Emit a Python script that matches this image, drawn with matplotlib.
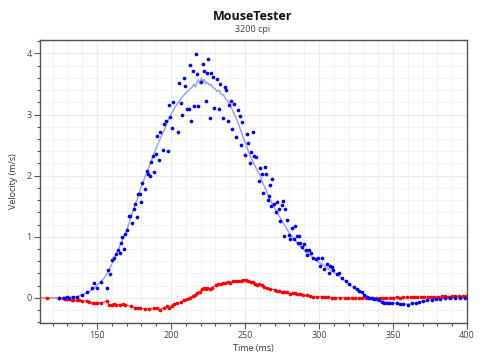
import matplotlib
matplotlib.use("Agg")
import matplotlib.pyplot as plt
from matplotlib.ticker import MultipleLocator

plt.rcParams['font.family'] = ['Open Sans', 'DejaVu Sans']

# x velocity points (time ms, m/s)
x_time = [124.5, 127.7, 129.5, 131.3, 134.0, 136.7, 139.7, 143.5, 146.8, 148.0,
          149.8, 153.0, 157.0, 157.7, 158.8, 160.2, 161.3, 163.0, 164.0, 165.7,
          166.3, 167.0, 168.0, 169.2, 170.3, 171.6, 172.6, 173.7, 174.7, 176.0,
          177.0, 178.0, 179.0, 179.7, 180.6, 182.6, 183.5, 184.6, 185.8, 186.7,
          187.6, 188.7, 189.6, 190.7, 191.6, 192.6, 194.6, 195.5, 196.6, 197.7,
          198.4, 199.5, 200.7, 201.5, 204.7, 205.6, 206.5, 207.6, 208.8, 209.7,
          211.0, 211.9, 212.8, 213.7, 214.6, 215.7, 216.7, 217.8, 218.5, 220.6,
          221.5, 222.4, 223.5, 224.4, 225.3, 226.4, 227.3, 228.4, 229.3, 231.2,
          232.3, 233.3, 235.1, 236.3, 237.2, 238.3, 239.2, 240.3, 241.2, 242.4,
          244.1, 245.3, 246.4, 247.3, 248.2, 250.3, 251.2, 252.3, 253.2, 254.3,
          255.6, 256.3, 257.3, 259.3, 260.4, 261.4, 262.3, 263.4, 264.3, 265.4,
          266.4, 267.1, 267.6, 268.4, 269.6, 270.8, 271.6, 272.8, 273.6, 274.7,
          275.7, 276.6, 277.2, 278.1, 279.7, 280.4, 281.8, 283.1, 283.5, 284.9,
          285.8, 286.7, 287.2, 288.7, 289.9, 291.2, 291.7, 293.0, 294.6, 295.7,
          297.7, 299.5, 300.4, 301.8, 303.6, 305.2, 306.5, 307.7, 308.6, 309.7,
          312.0, 313.7, 315.5, 318.4, 320.3, 323.6, 325.5, 327.2, 328.8, 330.6,
          332.2, 334.0, 335.6, 337.4, 339.0, 340.8, 342.4, 344.0, 345.7, 347.1,
          349.1, 352.5, 354.7, 357.0, 359.9, 362.6, 365.5, 367.8, 370.5, 373.2,
          376.1, 379.1, 381.8, 385.1, 388.5, 391.9, 395.3, 398.6]
x_vel = [0.0, 0.0, 0.01, 0.0, 0.01, 0.02, 0.05, 0.09, 0.17, 0.24,
         0.17, 0.26, 0.17, 0.45, 0.39, 0.62, 0.66, 0.72, 0.79, 0.73,
         0.90, 1.00, 0.80, 1.04, 1.11, 1.34, 1.34, 1.23, 1.45, 1.53,
         1.32, 1.70, 1.70, 1.57, 1.88, 1.78, 2.07, 2.02, 2.00, 2.22,
         2.32, 2.06, 2.35, 2.65, 2.25, 2.72, 2.42, 2.85, 2.89, 2.40,
         3.16, 2.96, 2.78, 3.21, 2.72, 3.52, 3.19, 3.00, 3.60, 3.47,
         3.09, 3.09, 3.81, 2.89, 3.71, 3.14, 3.99, 3.66, 3.14, 3.53,
         3.83, 3.71, 3.23, 3.68, 3.91, 2.95, 3.68, 3.62, 3.10, 3.59,
         3.09, 3.50, 2.95, 3.45, 3.41, 2.89, 3.15, 3.23, 2.76, 3.18,
         2.64, 3.07, 2.97, 2.50, 2.88, 2.34, 2.68, 2.53, 2.20, 2.38,
         2.71, 2.33, 2.30, 1.92, 2.13, 2.03, 1.71, 2.14, 2.02, 1.60,
         1.66, 1.84, 1.50, 1.94, 1.54, 1.40, 1.57, 1.46, 1.26, 1.52,
         1.59, 1.01, 1.45, 1.27, 1.03, 0.97, 1.14, 0.96, 1.17, 1.01,
         0.90, 1.01, 0.90, 0.84, 0.89, 0.79, 0.71, 0.78, 0.74, 0.65,
         0.63, 0.65, 0.52, 0.66, 0.48, 0.55, 0.41, 0.52, 0.50, 0.46,
         0.39, 0.40, 0.32, 0.27, 0.23, 0.18, 0.14, 0.11, 0.09, 0.05,
         0.02, 0.005, -0.005, -0.016, -0.02, -0.04, -0.06, -0.08, -0.09, -0.09,
         -0.08, -0.09, -0.10, -0.10, -0.11, -0.09, -0.08, -0.07, -0.05, -0.04,
         -0.03, -0.02, -0.01, -0.005, 0.0, 0.0, -0.005, -0.005]

# smoothed x velocity line
xs_time = [123, 128, 132, 136, 140, 144, 148, 152, 155, 158, 160, 163, 166, 168,
           170, 172, 175, 177, 180, 182, 185, 188, 190, 193, 195, 198, 200, 203,
           205, 208, 210, 212, 214, 215.5, 216.5, 217.5, 218.5, 219.5, 220.5,
           221.5, 222.5, 223.5, 224.5, 226, 227, 228.5, 230, 231, 232.5, 234,
           235.5, 237, 238.5, 240, 242, 244, 246, 248, 250, 252, 254, 256, 258,
           260, 262, 264, 266, 268, 270, 272, 274, 276, 278, 280, 282, 284, 286,
           288, 290, 292, 294, 296, 298, 300, 302, 304, 306, 308, 310, 312, 314,
           316, 318, 320, 322, 324, 326, 328, 330, 332, 334, 336, 338, 340, 343,
           346, 349, 352, 355, 358, 361, 364, 367, 370, 373, 376, 379, 382, 386,
           390, 395, 400]
xs_vel = [0.0, 0.005, 0.01, 0.02, 0.05, 0.09, 0.16, 0.25, 0.33, 0.45, 0.55, 0.72,
          0.88, 0.98, 1.1, 1.25, 1.47, 1.6, 1.83, 1.95, 2.13, 2.33, 2.45, 2.62,
          2.72, 2.9, 3.0, 3.13, 3.2, 3.3, 3.35, 3.4, 3.44, 3.5, 3.45, 3.52, 3.57,
          3.5, 3.6, 3.53, 3.58, 3.5, 3.53, 3.48, 3.5, 3.44, 3.42, 3.38, 3.4, 3.33,
          3.32, 3.25, 3.22, 3.15, 3.05, 2.95, 2.82, 2.68, 2.55, 2.42, 2.3, 2.2,
          2.1, 2.02, 1.88, 1.78, 1.66, 1.56, 1.47, 1.38, 1.3, 1.22, 1.14, 1.06,
          1.0, 0.94, 0.88, 0.83, 0.78, 0.74, 0.7, 0.66, 0.62, 0.58, 0.55, 0.52,
          0.48, 0.45, 0.42, 0.39, 0.35, 0.31, 0.27, 0.23, 0.2, 0.16, 0.13, 0.1,
          0.07, 0.04, 0.015, 0.0, -0.02, -0.035, -0.055, -0.07, -0.08, -0.09,
          -0.095, -0.1, -0.1, -0.09, -0.075, -0.06, -0.045, -0.03, -0.02, -0.012,
          -0.006, -0.003, 0.0, 0.0]

# y velocity points
y_time = [105, 116, 124.5, 127.2, 128.4, 130.0, 131.3, 132.9, 134.0, 136.3,
          138.0, 140.0, 143.4, 144.8, 147.1, 148.6, 150.2, 152.7, 157.0, 158.3,
          159.9, 161.5, 162.8, 165.5, 167.3, 168.9, 172.7, 175.9, 177.9, 179.0,
          182.4, 185.3, 188.5, 190.7, 192.6, 195.0, 197.1, 198.9, 200.5, 202.0,
          204.3, 206.5, 208.8, 210.6, 212.8, 214.6, 216.2, 217.8, 219.6, 220.7,
          222.3, 223.6, 224.5, 226.3, 227.5, 230.4, 232.0, 233.6, 234.9, 236.5,
          238.3, 239.9, 242.1, 243.9, 245.5, 247.1, 248.9, 250.7, 252.3, 253.8,
          255.6, 256.8, 257.9, 259.7, 261.3, 262.8, 265.1, 266.9, 270.3, 271.8,
          273.2, 274.8, 276.3, 278.1, 280.4, 282.2, 283.7, 284.9, 287.1, 289.4,
          291.6, 293.9, 296.2, 298.8, 301.8, 304.0, 306.3, 308.5, 310.8, 314.2,
          317.6, 319.8, 322, 324.5, 327, 329, 331.5, 334, 336, 338.5,
          341, 343, 345.5, 348, 350, 352.5, 355, 357, 359.5, 362,
          364, 366.5, 369, 371, 373.5, 376, 378, 380.5, 383, 385,
          387.5, 390, 392, 394.5, 397, 399]
y_vel = [0.0, 0.0, 0.0, 0.0, -0.01, -0.02, -0.02, -0.03, -0.03, -0.04,
         -0.04, -0.05, -0.05, -0.06, -0.09, -0.08, -0.08, -0.08, -0.05, -0.11,
         -0.12, -0.10, -0.11, -0.11, -0.10, -0.11, -0.14, -0.16, -0.17, -0.17,
         -0.18, -0.18, -0.17, -0.17, -0.19, -0.16, -0.14, -0.16, -0.13, -0.10,
         -0.08, -0.07, -0.04, -0.02, 0.005, 0.03, 0.05, 0.08, 0.10, 0.14,
         0.16, 0.14, 0.17, 0.14, 0.17, 0.21, 0.22, 0.22, 0.25, 0.24,
         0.26, 0.25, 0.27, 0.28, 0.27, 0.28, 0.29, 0.295, 0.27, 0.26,
         0.26, 0.22, 0.21, 0.23, 0.21, 0.18, 0.16, 0.15, 0.13, 0.11,
         0.12, 0.10, 0.09, 0.09, 0.07, 0.08, 0.08, 0.06, 0.06, 0.04,
         0.04, 0.03, 0.02, 0.016, 0.016, 0.01, 0.01, 0.005, 0.005, 0.005,
         0.0, 0.005, 0.0, 0.005, 0.0, 0.005, 0.005, 0.0, 0.005, 0.005,
         0.0, 0.005, 0.005, 0.0, 0.005, 0.01, 0.005, 0.01, 0.01, 0.01,
         0.015, 0.01, 0.015, 0.015, 0.02, 0.02, 0.02, 0.02, 0.025, 0.025,
         0.02, 0.03, 0.025, 0.025, 0.025, 0.025]


def main():
    fig = plt.figure(figsize=(4.8, 3.6), dpi=100)
    ax = fig.add_axes([0.0833, 0.1028, 0.8896, 0.7861])

    # grid
    ax.xaxis.set_major_locator(MultipleLocator(50))
    ax.xaxis.set_minor_locator(MultipleLocator(10))
    ax.yaxis.set_major_locator(MultipleLocator(1))
    ax.yaxis.set_minor_locator(MultipleLocator(0.2))
    ax.grid(which='major', color='#ebebeb', lw=0.8)
    ax.grid(which='minor', color='#f3f3f3', lw=0.8)
    ax.set_axisbelow(True)

    ax.plot(y_time, y_vel, color='#ff4040', lw=0.8, zorder=2)
    ax.plot(xs_time, xs_vel, color='#9a9af5', lw=1.0, zorder=3)
    ax.scatter(y_time, y_vel, s=7, color='#ff0000', lw=0, zorder=4)
    ax.scatter(x_time, x_vel, s=7, color='#0000ff', lw=0, zorder=5)

    ax.set_xlim(111.5, 400)
    ax.set_ylim(-0.41, 4.22)

    for s in ax.spines.values():
        s.set_color('#555555')
        s.set_linewidth(1.0)
    ax.tick_params(which='major', length=4, width=0.8, color='#555555',
                   labelsize=6.5, labelcolor='#444444', pad=2)
    ax.tick_params(which='minor', length=2.5, width=0.8, color='#555555')

    ax.set_xlabel('Time (ms)', fontsize=6.5, color='#333333', labelpad=3)
    ax.set_ylabel('Velocity (m/s)', fontsize=6.5, color='#333333', labelpad=6)

    fig.text(0.527, 0.953, 'MouseTester', ha='center', va='center',
             fontsize=9, fontweight='bold', color='#111111')
    fig.text(0.527, 0.917, '3200 cpi', ha='center', va='center',
             fontsize=6.5, color='#444444')

    fig.savefig('out.png', dpi=100)


if __name__ == "__main__":
    main()
